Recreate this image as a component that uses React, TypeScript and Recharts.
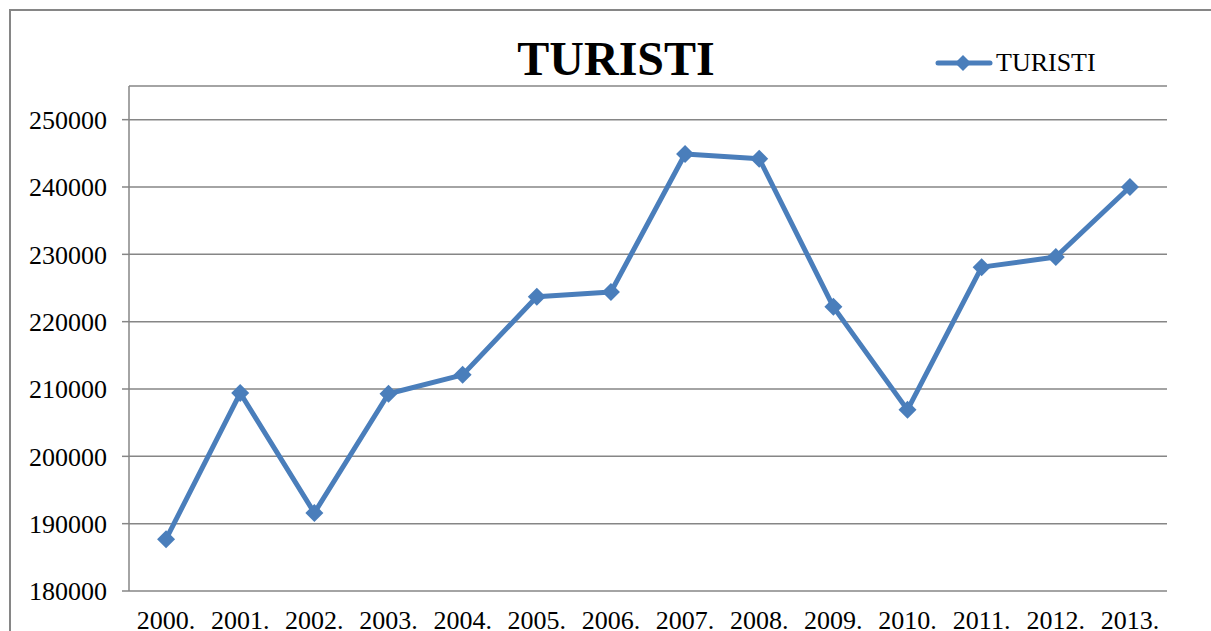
import { LineChart, Line, XAxis, YAxis, CartesianGrid } from 'recharts';

const YEARS = ['2000.', '2001.', '2002.', '2003.', '2004.', '2005.', '2006.', '2007.', '2008.', '2009.', '2010.', '2011.', '2012.', '2013.'];
const TURISTI = [187700, 209400, 191600, 209300, 212100, 223700, 224400, 244900, 244200, 222200, 206900, 228100, 229600, 240000];
const Y_TICKS = [180000, 190000, 200000, 210000, 220000, 230000, 240000, 250000];
// category boundaries, Excel draws x tick marks between the years
const EDGES = [0, 1, 2, 3, 4, 5, 6, 7, 8, 9, 10, 11, 12, 13, 14];

const BLUE = '#4A7EBB';
const GRID = '#868686';
const FONT = '"Liberation Serif", "Times New Roman", serif';

const data = YEARS.map((year, i) => ({ year, pos: i + 0.5, turisti: TURISTI[i] }));

function Diamond({ cx, cy, r = 9 }: { cx: number; cy: number; r?: number }) {
  return <path d={`M${cx},${cy - r}L${cx + r},${cy}L${cx},${cy + r}L${cx - r},${cy}Z`} fill={BLUE} />;
}

export default function App() {
  return (
    <div style={{ position: 'absolute', left: 0, top: 0, width: 1211, height: 631, overflow: 'hidden', background: '#fff', fontFamily: FONT }}>
      <style>{`.recharts-wrapper text, .recharts-text { font-family: ${FONT} !important; }`}</style>
      <div style={{ position: 'absolute', left: 9, top: 9, width: 1400, height: 800, borderTop: `2px solid ${GRID}`, borderLeft: `2px solid ${GRID}` }} />
      <div style={{ position: 'absolute', left: 416, width: 400, top: 35, lineHeight: '48px', fontSize: 48, fontWeight: 'bold', textAlign: 'center', color: '#000' }}>
        TURISTI
      </div>
      <div style={{ position: 'absolute', left: 935, top: 49, display: 'flex', alignItems: 'center' }}>
        <svg width={58} height={28}>
          <line x1={3} y1={14} x2={55} y2={14} stroke={BLUE} strokeWidth={5} strokeLinecap="round" />
          <Diamond cx={28} cy={14} r={8} />
        </svg>
        <span style={{ fontSize: 26, marginLeft: 3, lineHeight: '28px', color: '#000' }}>TURISTI</span>
      </div>
      <LineChart width={1211} height={631} data={data} margin={{ top: 86, right: 44, bottom: 0, left: 29 }}>
        <CartesianGrid vertical={false} stroke={GRID} strokeWidth={1.5} />
        <XAxis
          xAxisId="edges"
          dataKey="pos"
          type="number"
          domain={[0, 14]}
          ticks={EDGES}
          height={0}
          tick={false}
          tickSize={8}
          axisLine={{ stroke: GRID, strokeWidth: 1.5 }}
          tickLine={{ stroke: GRID, strokeWidth: 1.5 }}
        />
        <XAxis
          dataKey="year"
          scale="band"
          height={40}
          interval={0}
          axisLine={false}
          tickLine={false}
          tickSize={6}
          tickMargin={14}
          tick={{ fontSize: 26, fill: '#000', fontFamily: FONT }}
        />
        <YAxis
          domain={[180000, 255000]}
          ticks={Y_TICKS}
          interval={0}
          width={100}
          tickSize={7}
          tickMargin={15}
          axisLine={{ stroke: GRID, strokeWidth: 1.5 }}
          tickLine={{ stroke: GRID, strokeWidth: 1.5 }}
          tick={{ fontSize: 26, fill: '#000', fontFamily: FONT }}
        />
        <Line
          dataKey="turisti"
          stroke={BLUE}
          strokeWidth={5}
          strokeLinejoin="round"
          isAnimationActive={false}
          dot={(p: any) => <Diamond key={`d${p.index}`} cx={p.cx} cy={p.cy} />}
        />
      </LineChart>
    </div>
  );
}
